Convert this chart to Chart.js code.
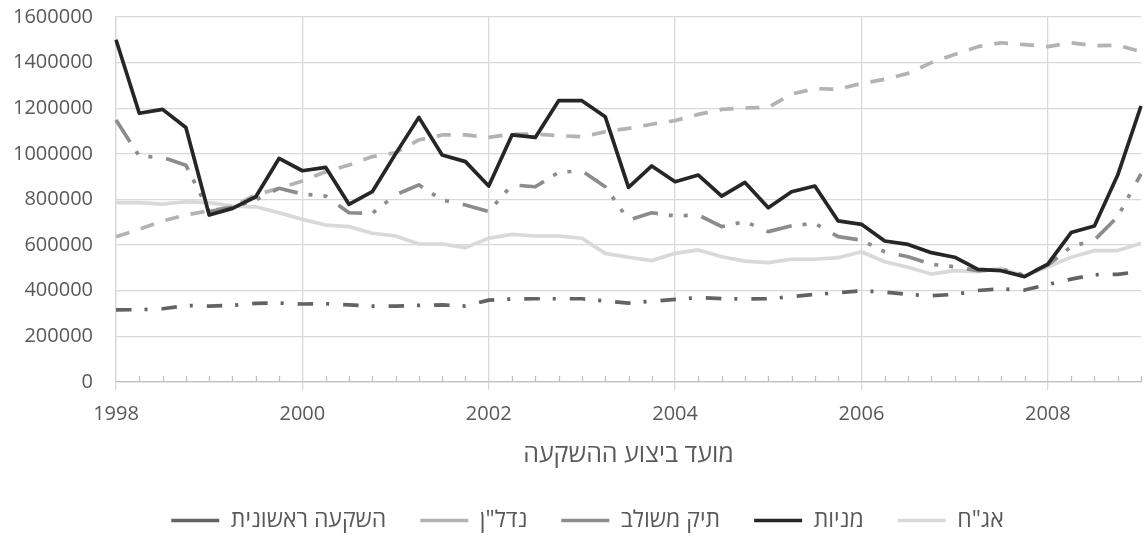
<!DOCTYPE html>
<html lang="he">
<head>
<meta charset="utf-8">
<title>השקעות לפי מועד ביצוע</title>
<script src="https://cdn.jsdelivr.net/npm/chart.js@4.4.1/dist/chart.umd.min.js"></script>
<style>
  html, body { margin: 0; padding: 0; background: #ffffff; }
  #wrap { width: 1144px; height: 537px; position: relative; }
</style>
</head>
<body>
<div id="wrap"><canvas id="chart" width="1144" height="537"></canvas></div>
<script>
// Quarterly observation dates, 1998 Q1 to 2009 Q1
const quarters = [
  '1998Q1','1998Q2','1998Q3','1998Q4',
  '1999Q1','1999Q2','1999Q3','1999Q4',
  '2000Q1','2000Q2','2000Q3','2000Q4',
  '2001Q1','2001Q2','2001Q3','2001Q4',
  '2002Q1','2002Q2','2002Q3','2002Q4',
  '2003Q1','2003Q2','2003Q3','2003Q4',
  '2004Q1','2004Q2','2004Q3','2004Q4',
  '2005Q1','2005Q2','2005Q3','2005Q4',
  '2006Q1','2006Q2','2006Q3','2006Q4',
  '2007Q1','2007Q2','2007Q3','2007Q4',
  '2008Q1','2008Q2','2008Q3','2008Q4',
  '2009Q1'
];

// Years shown under the axis
const yearTicks = ['1998', '2000', '2002', '2004', '2006', '2008'];
const valueTicks = [0, 200000, 400000, 600000, 800000, 1000000, 1200000, 1400000, 1600000];

// Legend sequence, left to right
const legendOrder = ['השקעה ראשונית', 'נדל"ן', 'תיק משולב', 'מניות', 'אג"ח'];

// Portfolio value by investment date
const bonds = [
  786000, 786000, 780000, 790000, 786000, 771000, 768000, 742000,
  713000, 688000, 681000, 652000, 640000, 605000, 605000, 589000,
  630000, 647000, 640000, 640000, 630000, 564000, 547000, 532000,
  564000, 579000, 549000, 530000, 523000, 538000, 538000, 545000,
  571000, 527000, 503000, 473000, 488000, 484000, 498000, 465000,
  505000, 547000, 576000, 576000, 608000
];
const stocks = [
  1500000, 1178000, 1195000, 1116000, 732000, 761000, 812000, 980000,
  926000, 941000, 779000, 834000, 1000000, 1160000, 995000, 966000,
  859000, 1083000, 1072000, 1233000, 1233000, 1163000, 853000, 947000,
  878000, 907000, 815000, 875000, 764000, 834000, 859000, 706000,
  691000, 618000, 603000, 567000, 547000, 494000, 488000, 462000,
  517000, 655000, 684000, 907000, 1210000
];
const mixed = [
  1148000, 990000, 985000, 950000, 747000, 766000, 798000, 849000,
  824000, 815000, 742000, 739000, 820000, 864000, 798000, 776000,
  747000, 864000, 856000, 919000, 926000, 856000, 710000, 742000,
  728000, 732000, 681000, 703000, 659000, 685000, 695000, 637000,
  622000, 571000, 549000, 516000, 505000, 488000, 494000, 469000,
  513000, 593000, 622000, 725000, 912000
];
const realEstate = [
  637000, 669000, 706000, 732000, 751000, 768000, 820000, 849000,
  881000, 922000, 951000, 988000, 1005000, 1061000, 1083000, 1083000,
  1072000, 1087000, 1087000, 1080000, 1075000, 1097000, 1112000, 1130000,
  1146000, 1173000, 1195000, 1201000, 1204000, 1262000, 1286000, 1283000,
  1309000, 1327000, 1353000, 1400000, 1436000, 1470000, 1487000, 1479000,
  1470000, 1487000, 1474000, 1476000, 1448000
];
const initial = [
  316000, 317000, 321000, 335000, 333000, 336000, 345000, 346000,
  342000, 343000, 338000, 333000, 333000, 336000, 338000, 333000,
  359000, 364000, 365000, 365000, 365000, 355000, 346000, 354000,
  362000, 370000, 365000, 364000, 365000, 374000, 384000, 391000,
  400000, 394000, 384000, 378000, 384000, 401000, 408000, 403000,
  427000, 451000, 470000, 472000, 485000
];

const FONT = "'Open Sans', 'Liberation Sans', 'DejaVu Sans', sans-serif";
const TEXT = '#595959';
const GRID = '#d9d9d9';
const LW = 3.7;

const isMajor = (i) => {
  const q = quarters[i];
  return !!q && q.endsWith('Q1') && yearTicks.includes(q.slice(0, 4));
};

// Short inner tick marks on the category axis for every quarter
const minorTicks = {
  id: 'minorTicks',
  beforeDatasetsDraw(chart) {
    const x = chart.scales.x;
    const ctx = chart.ctx;
    ctx.save();
    ctx.strokeStyle = '#bfbfbf';
    ctx.lineWidth = 1.3;
    ctx.beginPath();
    for (let i = 0; i < quarters.length; i++) {
      if (isMajor(i)) continue;
      const px = Math.round(x.getPixelForTick(i)) + 0.5;
      ctx.moveTo(px, x.top);
      ctx.lineTo(px, x.top - 6);
    }
    ctx.stroke();
    ctx.restore();
  }
};

// Centre the legend row under the plot rather than the whole canvas
const legendShift = {
  id: 'legendShift',
  afterLayout(chart) {
    const lg = chart.legend;
    if (lg) { lg.left += 17; lg.right += 17; }
  }
};

const line = (label, data, color, dash) => ({
  label, data,
  borderColor: color,
  backgroundColor: color,
  borderWidth: LW,
  borderDash: dash,
  borderCapStyle: 'butt',
  borderJoinStyle: 'round',
  pointRadius: 0,
  pointHoverRadius: 0,
  tension: 0,
  fill: false
});

new Chart(document.getElementById('chart'), {
  type: 'line',
  data: {
    labels: quarters,
    // the first dataset is painted last, so the stock line sits on top
    datasets: [
      line('מניות', stocks, '#262626', []),
      line('השקעה ראשונית', initial, '#636363', [15.5, 13, 3, 14]),
      line('תיק משולב', mixed, '#8c8c8c', [26, 11, 4, 11, 4, 14]),
      line('נדל"ן', realEstate, '#b3b3b3', [14, 12]),
      line('אג"ח', bonds, '#d9d9d9', [])
    ]
  },
  options: {
    responsive: false,
    animation: false,
    devicePixelRatio: 1,
    layout: { padding: { left: 0, right: 3, top: 17, bottom: -5 } },
    plugins: {
      tooltip: { enabled: false },
      legend: {
        position: 'bottom',
        labels: {
          usePointStyle: true,
          pointStyle: 'line',
          pointStyleWidth: 48,
          color: TEXT,
          padding: 34,
          font: { family: FONT, size: 23 },
          sort: (a, b) => legendOrder.indexOf(a.text) - legendOrder.indexOf(b.text)
        }
      }
    },
    scales: {
      x: {
        type: 'category',
        offset: false,
        afterFit(scale) {
          scale.height = 93;
          scale.paddingLeft = 0;
          scale.paddingRight = 0;
        },
        grid: {
          display: true,
          drawOnChartArea: true,
          drawTicks: true,
          tickLength: 8,
          lineWidth: 1.3,
          color: (c) => (isMajor(c.index) ? GRID : 'rgba(0,0,0,0)'),
          tickColor: (c) => (isMajor(c.index) ? GRID : 'rgba(0,0,0,0)')
        },
        border: { display: true, color: '#bfbfbf', width: 1.3 },
        ticks: {
          autoSkip: false,
          maxRotation: 0,
          minRotation: 0,
          padding: 12,
          color: TEXT,
          font: { family: FONT, size: 20 },
          callback(value, index) {
            return isMajor(index) ? quarters[index].slice(0, 4) : '';
          }
        },
        title: {
          display: true,
          text: 'מועד ביצוע ההשקעה',
          color: TEXT,
          font: { family: FONT, size: 25 },
          padding: { top: 0, bottom: 5 }
        }
      },
      y: {
        min: valueTicks[0],
        max: valueTicks[valueTicks.length - 1],
        afterFit(scale) {
          scale.width = 116;
          scale.paddingTop = 0;
          scale.paddingBottom = 0;
        },
        afterBuildTicks(scale) { scale.ticks = valueTicks.map(v => ({ value: v })); },
        grid: { color: GRID, lineWidth: 1.3, drawTicks: false },
        border: { display: true, color: GRID, width: 1.3 },
        ticks: {
          padding: 23,
          color: TEXT,
          font: { family: FONT, size: 20 },
          callback: (v) => String(v)
        }
      }
    }
  },
  plugins: [minorTicks, legendShift]
});
</script>
</body>
</html>
